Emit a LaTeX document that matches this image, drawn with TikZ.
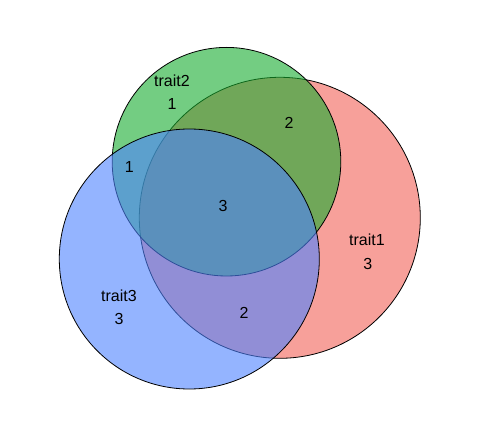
\documentclass[tikz,border=0pt]{standalone}
\usepackage{fontspec}
\setmainfont{Liberation Sans}
\definecolor{cred}{RGB}{242,97,88}
\definecolor{cgreen}{RGB}{23,173,47}
\definecolor{cblue}{RGB}{77,130,255}
\begin{document}
\begin{tikzpicture}[x=1pt,y=-1pt,
  setcircle/.style={draw=black,line width=0.8pt,fill opacity=0.6},
  lab/.style={inner sep=0pt,font=\fontsize{16}{19}\selectfont}]
\useasboundingbox (0,0) rectangle (479,438);
\fill[white] (0,0) rectangle (479,438);
\draw[setcircle,fill=cred] (279.8,217.8) circle[radius=140.5];
\draw[setcircle,fill=cgreen] (226.5,161.7) circle[radius=114.3];
\draw[setcircle,fill=cblue] (189.3,259) circle[radius=130];
\node[lab] (t1) at (367,240) {trait1};
\node[lab] (n1) at (367.7,264) {3};
\node[lab] (t2) at (172,80.7) {trait2};
\node[lab] (n2) at (172,104.3) {1};
\node[lab] (t3) at (119,295.3) {trait3};
\node[lab] (n3) at (119,319) {3};
\node[lab] (n12) at (289,123.3) {2};
\node[lab] (n23) at (129.3,167.3) {1};
\node[lab] (n123) at (223,206) {3};
\node[lab] (n13) at (244,312.7) {2};
\end{tikzpicture}
\end{document}
